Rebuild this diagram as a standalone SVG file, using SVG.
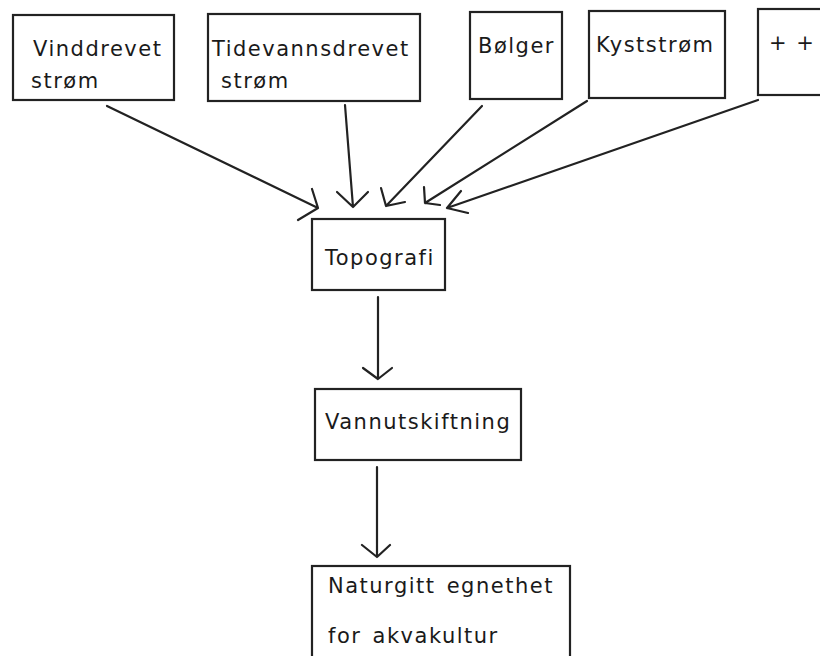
<svg xmlns="http://www.w3.org/2000/svg" width="820" height="656" viewBox="0 0 820 656">
<style>
.box{fill:none;stroke:#222;stroke-width:2.2}
.t{font-family:"DejaVu Sans",sans-serif;font-size:21px;fill:#1a1a1a;letter-spacing:1.5px}
.c{fill:none;stroke:#222;stroke-width:2.2;stroke-linecap:round;stroke-linejoin:round}
</style>
<rect width="820" height="656" fill="#fff"/>
<g id="vinddrevet"><rect class="box" x="13" y="15" width="161" height="85"/><text class="t" x="33" y="56">Vinddrevet</text><text class="t" x="31" y="88">strøm</text></g>
<g id="tidevann"><rect class="box" x="208" y="14" width="212" height="87"/><text class="t" x="212" y="56">Tidevannsdrevet</text><text class="t" x="221" y="88">strøm</text></g>
<g id="bolger"><rect class="box" x="470" y="12" width="92" height="87"/><text class="t" x="478" y="53">Bølger</text></g>
<g id="kyststrom"><rect class="box" x="589" y="11" width="136" height="87"/><text class="t" x="596" y="52">Kyststrøm</text></g>
<g id="pluss"><rect class="box" x="758" y="9" width="80" height="86"/><text class="t" x="769" y="50">+ +</text></g>
<g id="topografi"><rect class="box" x="312" y="219" width="133" height="71"/><text class="t" x="325" y="265">Topografi</text></g>
<g id="vannutskiftning"><rect class="box" x="315" y="389" width="206" height="71"/><text class="t" x="325" y="429">Vannutskiftning</text></g>
<g id="naturgitt"><rect class="box" x="312" y="566" width="258" height="100"/><text class="t" x="328" y="593" word-spacing="3">Naturgitt egnethet</text><text class="t" x="328" y="643" word-spacing="3">for akvakultur</text></g>
<g id="connectors">
<path class="c" d="M107 106 L318 208 M312 189 L318 208 L298 220"/>
<path class="c" d="M345 105 L353 207 M337 192 L353 207 L368 192"/>
<path class="c" d="M482 106 L386 206 M381 188 L386 206 L405 202"/>
<path class="c" d="M587 101 L425 203 M424 187 L425 203 L440 205"/>
<path class="c" d="M758 100 L447 208 M461 191 L447 208 L468 213"/>
<path class="c" d="M378 297 L378 379 M363 368 L378 379 L392 368"/>
<path class="c" d="M377 467 L377 557 M362 545 L377 557 L390 545"/>
</g>
</svg>
